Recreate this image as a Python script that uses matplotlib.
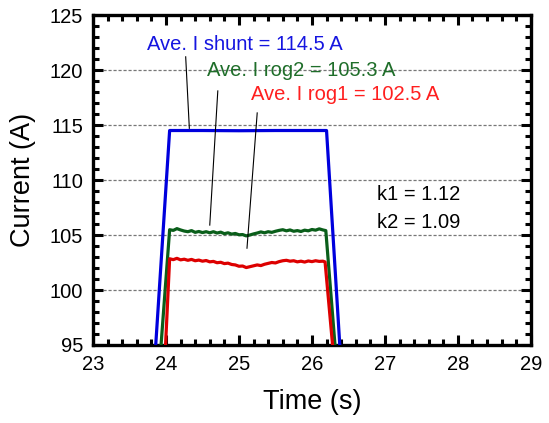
import numpy as np
import matplotlib
matplotlib.use("Agg")
import matplotlib.pyplot as plt
from matplotlib.ticker import MultipleLocator

plt.rcParams['font.family'] = ['Liberation Sans', 'DejaVu Sans']

# ---- data ----
# plateau time grid (s)
t_plateau = [24.05, 24.10, 24.15, 24.20, 24.25, 24.30, 24.35, 24.40, 24.45, 24.50,
             24.55, 24.60, 24.65, 24.70, 24.75, 24.80, 24.85, 24.90, 24.95, 25.00,
             25.05, 25.10, 25.15, 25.20, 25.25, 25.30, 25.35, 25.40, 25.45, 25.50,
             25.55, 25.60, 25.65, 25.70, 25.75, 25.80, 25.85, 25.90, 25.95, 26.00,
             26.05, 26.10, 26.15]

i_rog2_plateau = [105.48, 105.42, 105.58, 105.46, 105.36, 105.30, 105.40, 105.24, 105.32, 105.22,
                  105.30, 105.20, 105.30, 105.18, 105.26, 105.12, 105.20, 105.08, 105.14, 105.02,
                  105.04, 104.92, 105.00, 105.10, 105.18, 105.28, 105.20, 105.30, 105.24, 105.34,
                  105.42, 105.48, 105.38, 105.46, 105.34, 105.40, 105.32, 105.44, 105.38, 105.50,
                  105.44, 105.56, 105.46]

i_rog1_plateau = [102.84, 102.76, 102.88, 102.74, 102.80, 102.70, 102.78, 102.66, 102.72, 102.62,
                  102.68, 102.56, 102.60, 102.48, 102.52, 102.40, 102.44, 102.32, 102.28, 102.16,
                  102.18, 102.04, 102.12, 102.20, 102.28, 102.22, 102.34, 102.42, 102.50, 102.46,
                  102.58, 102.66, 102.70, 102.62, 102.66, 102.56, 102.62, 102.54, 102.64, 102.58,
                  102.66, 102.60, 102.62]

t_shunt = [23.84, 24.05, 24.50, 25.00, 25.50, 26.00, 26.20, 26.40]
i_shunt = [93.0, 114.50, 114.50, 114.48, 114.50, 114.50, 114.50, 93.0]

# edges (start/end below the axis)
t_rog2_edges = ([23.91], [26.19, 26.34])
i_rog2_edges = ([93.0], [105.40, 93.0])
t_rog1_edges = ([23.98], [26.18, 26.31])
i_rog1_edges = ([93.0], [102.55, 93.0])

t_rog2 = t_rog2_edges[0] + t_plateau + t_rog2_edges[1]
i_rog2 = i_rog2_edges[0] + i_rog2_plateau + i_rog2_edges[1]
t_rog1 = t_rog1_edges[0] + t_plateau + t_rog1_edges[1]
i_rog1 = i_rog1_edges[0] + i_rog1_plateau + i_rog1_edges[1]

labels = ["Ave. I shunt = 114.5 A", "Ave. I rog2 = 105.3 A", "Ave. I rog1 = 102.5 A"]
colors = ['#0000dd', '#0a5e1a', '#dd0000']
text_colors = ['#1515e0', '#1f6e2a', '#ff1f1f']

fig = plt.figure(figsize=(5.49, 4.23), dpi=100)
ax = fig.add_axes([0.1694, 0.1844, 0.7976, 0.7801])

for y in [100, 105, 110, 115, 120]:
    ax.axhline(y, color='#777777', lw=0.9, ls=(0, (2.5, 1.5)), zorder=1)

ax.plot(t_shunt, i_shunt, color=colors[0], lw=2.3, zorder=3)
ax.plot(t_rog2, i_rog2, color=colors[1], lw=2.3, zorder=3)
ax.plot(t_rog1, i_rog1, color=colors[2], lw=2.3, zorder=3)

# labels with pointer lines
ax.text(23.74, 122.36, labels[0], color=text_colors[0], fontsize=14.5, ha='left', va='center')
ax.text(24.56, 120.0, labels[1], color=text_colors[1], fontsize=14.5, ha='left', va='center')
ax.text(25.16, 117.73, labels[2], color=text_colors[2], fontsize=14.5, ha='left', va='center')
ax.plot([24.27, 24.32], [121.2, 114.7], color='black', lw=0.8, zorder=4)
ax.plot([24.71, 24.60], [118.1, 105.9], color='black', lw=0.8, zorder=4)
ax.plot([25.25, 25.11], [116.1, 103.8], color='black', lw=0.8, zorder=4)

ax.text(26.89, 108.64, "k1 = 1.12", fontsize=14.5, ha='left', va='center')
ax.text(26.89, 106.18, "k2 = 1.09", fontsize=14.5, ha='left', va='center')

ax.set_xlim(23, 29)
ax.set_ylim(95, 125)
ax.xaxis.set_major_locator(MultipleLocator(1))
ax.xaxis.set_minor_locator(MultipleLocator(0.2))
ax.yaxis.set_major_locator(MultipleLocator(5))
ax.yaxis.set_minor_locator(MultipleLocator(1))
ax.tick_params(which='both', direction='in', top=True, right=True, labelsize=14.5, width=2.2)
ax.tick_params(which='major', length=7, pad=7)
ax.tick_params(which='minor', length=4)
for s in ax.spines.values():
    s.set_linewidth(2.4)

ax.set_xlabel("Time (s)", fontsize=19.5, labelpad=11)
ax.set_ylabel("Current (A)", fontsize=19.5, labelpad=10)

fig.savefig("out.png", dpi=100)
